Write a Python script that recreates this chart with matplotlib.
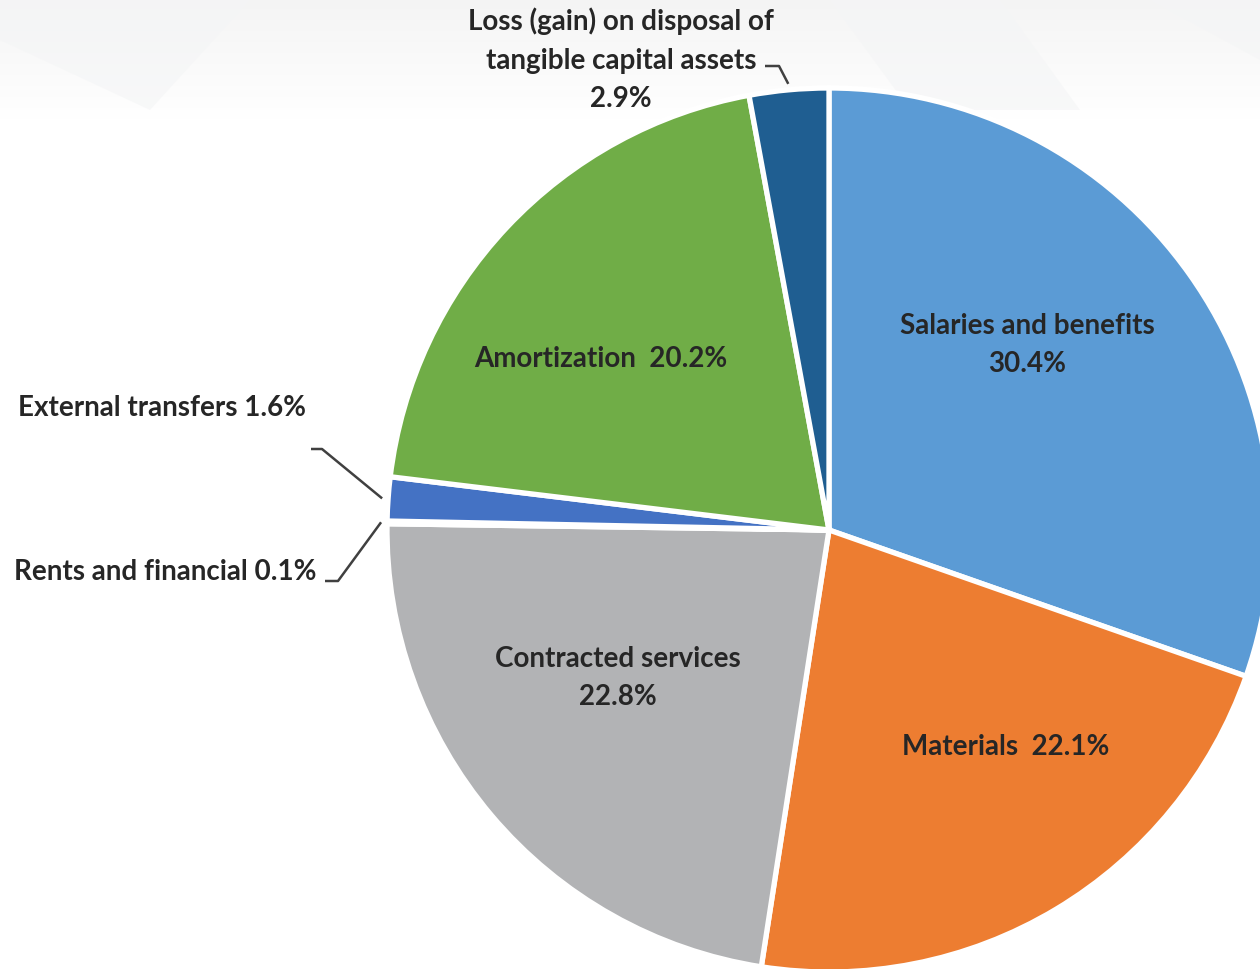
import matplotlib.pyplot as plt
import numpy as np
from matplotlib.patches import Polygon

# expense breakdown (percent of total)
labels = ['Salaries and benefits', 'Materials', 'Contracted services',
          'Rents and financial', 'External transfers', 'Amortization',
          'Loss (gain) on disposal of\ntangible capital assets']
shares = [30.4, 22.1, 22.8, 0.1, 1.6, 20.2, 2.9]
colors = ['#5B9BD5', '#ED7D31', '#B2B3B5', '#FFC000', '#4472C4', '#70AD47', '#1F5E91']

W, H = 1260, 969
fig = plt.figure(figsize=(12.6, 9.69), dpi=100)
ax = fig.add_axes([0, 0, 1, 1])

# faint grey wash at the top, fading downward
fade = np.zeros((120, 2, 4))
fade[..., :3] = 0.93
fade[..., 3] = np.linspace(0, 0.6, 120)[:, None]
ax.imshow(fade, extent=(0, W, H - 120, H), aspect='auto', origin='lower',
          zorder=-2, interpolation='bilinear')
bg = [[(0, H), (250, H), (150, H - 110), (0, H - 40)],
      [(830, H), (1000, H), (1080, H - 110), (910, H - 110)],
      [(1150, H), (1260, H), (1260, H - 60)]]
for p in bg:
    ax.add_patch(Polygon(p, closed=True, facecolor='#f4f5f6', alpha=0.6,
                         edgecolor='none', zorder=-1))

cx, cy, r = 829, H - 530, 442
wedges, _ = ax.pie(shares, colors=colors, startangle=90, counterclock=False,
                   center=(cx, cy), radius=r, frame=True,
                   wedgeprops=dict(edgecolor='white', linewidth=3.8))

ax.set_xlim(0, W)
ax.set_ylim(0, H)
ax.set_aspect('equal')
ax.axis('off')

font = dict(family='Lato', weight='bold', fontsize=20, color='#262626')

def py(y):
    return H - y

ax.text(1027, py(345), f'{labels[0]}\n{shares[0]:.1f}%', ha='center', va='center', linespacing=1.6, **font)
ax.text(1006, py(747), f'{labels[1]}  {shares[1]:.1f}%', ha='center', va='center', **font)
ax.text(618, py(678), f'{labels[2]}\n{shares[2]:.1f}%', ha='center', va='center', linespacing=1.6, **font)
ax.text(14, py(572), f'{labels[3]} {shares[3]:.1f}%', ha='left', va='center', **font)
ax.text(18, py(408), f'{labels[4]} {shares[4]:.1f}%', ha='left', va='center', **font)
ax.text(601, py(359), f'{labels[5]}  {shares[5]:.1f}%', ha='center', va='center', **font)
ax.text(621, py(60), f'{labels[6]}\n{shares[6]:.1f}%', ha='center', va='center', linespacing=1.6, **font)

# leader lines: short elbow near the label, then to the wedge edge
def tip(w, rr):
    a = np.deg2rad((w.theta1 + w.theta2) / 2)
    return cx + rr * np.cos(a), cy + rr * np.sin(a)

leaders = {6: [(765, 66), (779, 66)], 4: [(311, 449), (322, 449)], 3: [(325, 581), (338, 581)]}
for i, pts in leaders.items():
    tx, ty = tip(wedges[i], r + 6)
    xs = [p[0] for p in pts] + [tx]
    ys = [py(p[1]) for p in pts] + [ty]
    ax.plot(xs, ys, color='#404040', lw=1.8, solid_capstyle='butt', zorder=5)

fig.savefig('out.png', dpi=100)
